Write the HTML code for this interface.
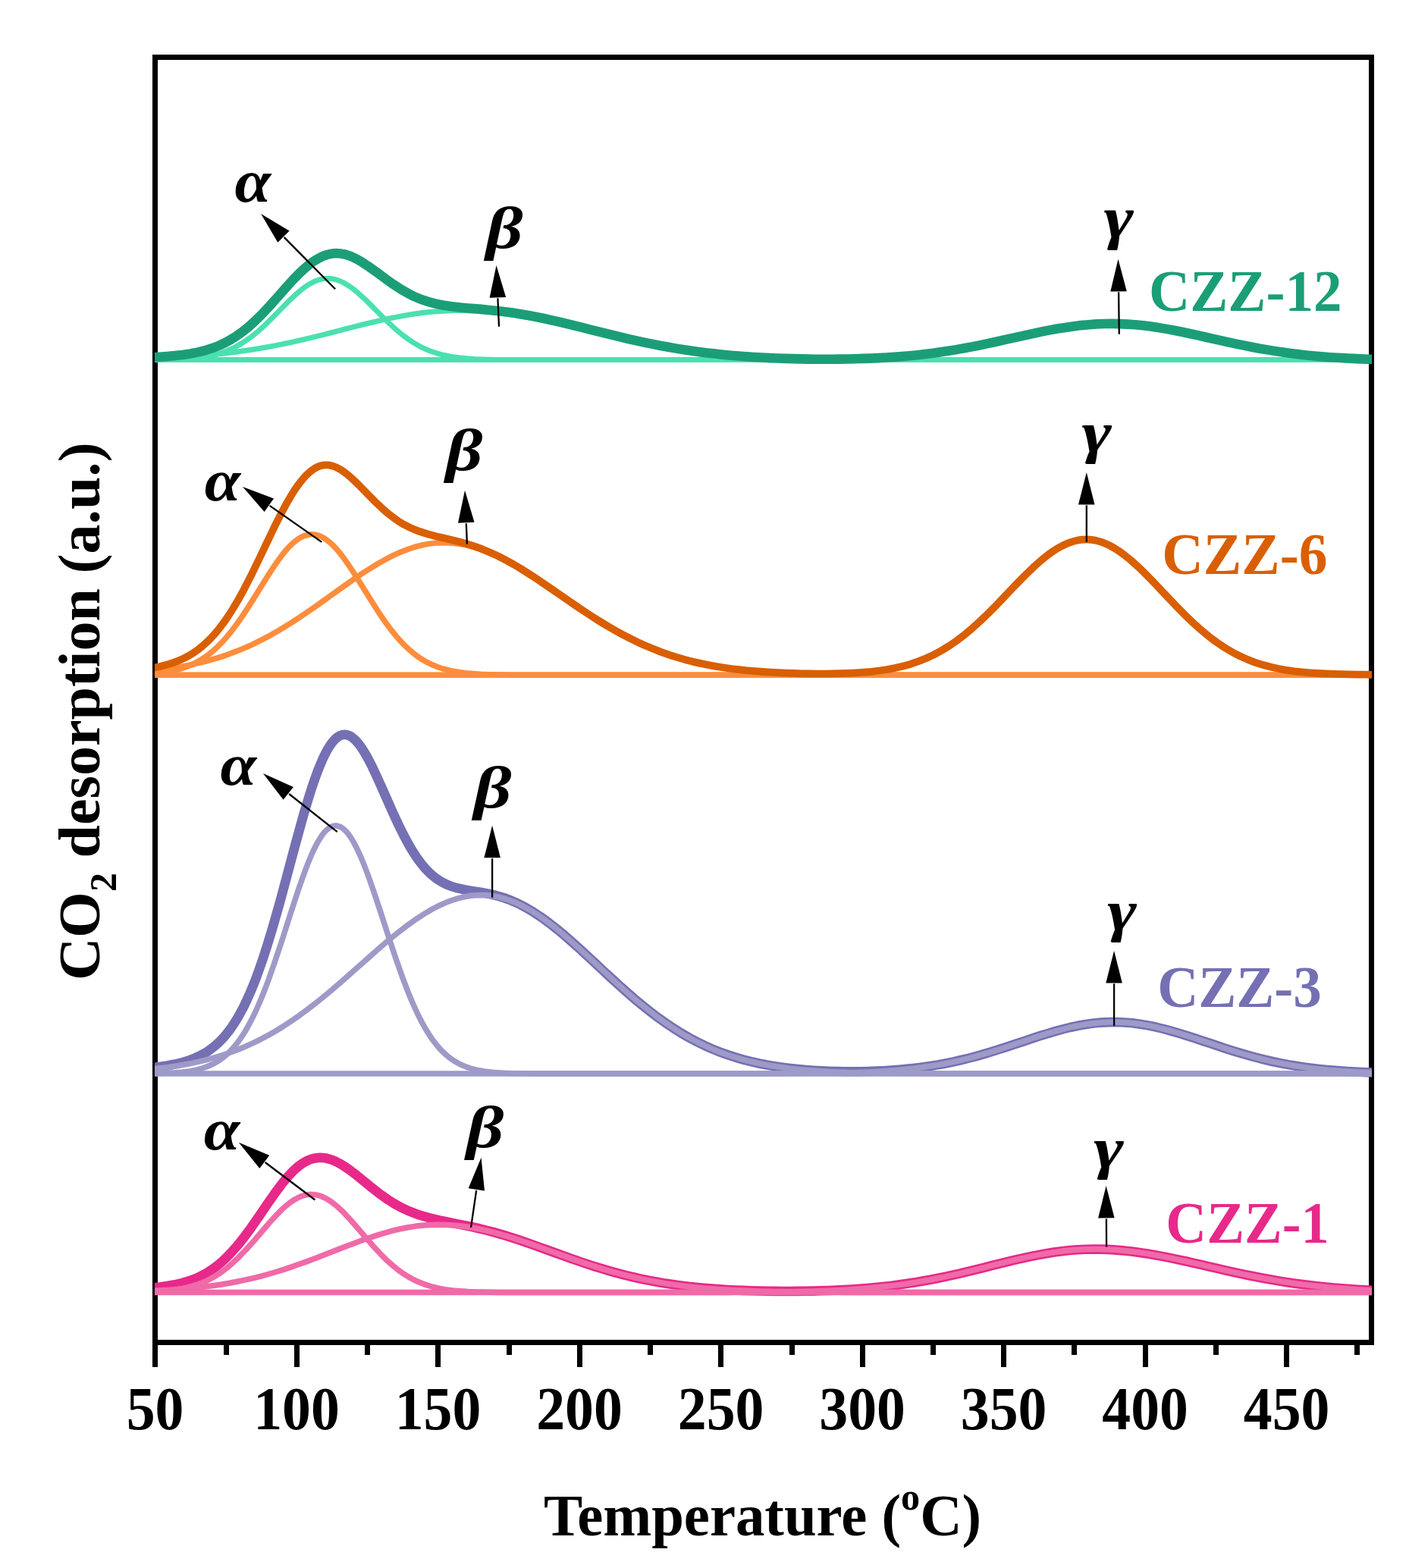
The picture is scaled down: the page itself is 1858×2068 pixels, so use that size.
<!DOCTYPE html>
<html lang="en"><head><meta charset="utf-8"><title>CO2-TPD profiles</title>
<style>html,body{margin:0;padding:0;background:#fff;overflow:hidden}svg{display:block}text{font-family:"Liberation Serif", "DejaVu Serif", serif;font-weight:bold}</style></head><body>
<svg width="1858" height="2068" viewBox="0 0 1858 2068">
<rect x="0" y="0" width="1858" height="2068" fill="#fff"/>
<g fill="#000" shape-rendering="crispEdges">
<rect x="201" y="72" width="1611" height="7"/>
<rect x="201" y="1767" width="1611" height="7"/>
<rect x="201" y="72" width="7" height="1731"/>
<rect x="1805" y="72" width="7" height="1702"/>
<rect x="295" y="1770" width="7" height="17"/>
<rect x="388" y="1770" width="7" height="33"/>
<rect x="481" y="1770" width="7" height="17"/>
<rect x="574" y="1770" width="7" height="33"/>
<rect x="668" y="1770" width="7" height="17"/>
<rect x="761" y="1770" width="7" height="33"/>
<rect x="854" y="1770" width="7" height="17"/>
<rect x="947" y="1770" width="7" height="33"/>
<rect x="1041" y="1770" width="7" height="17"/>
<rect x="1134" y="1770" width="7" height="33"/>
<rect x="1227" y="1770" width="7" height="17"/>
<rect x="1320" y="1770" width="7" height="33"/>
<rect x="1413" y="1770" width="7" height="17"/>
<rect x="1507" y="1770" width="7" height="33"/>
<rect x="1600" y="1770" width="7" height="17"/>
<rect x="1693" y="1770" width="7" height="33"/>
<rect x="1786" y="1770" width="7" height="17"/>
</g>
<defs><clipPath id="pc"><rect x="204" y="75" width="1605" height="1695"/></clipPath></defs>
<g clip-path="url(#pc)" fill="none" stroke-linejoin="round" stroke-linecap="butt">
<g>
<path d="M200.5 474.6 L1812.5 474.6" stroke="#4be0b0" stroke-width="6.2"/>
<path d="M189.6 474.5L199.8 474.5L210.1 474.4L220.4 474.2L230.6 473.9L240.9 473.5L251.1 472.8L261.4 471.7L271.6 470.2L281.9 468.1L290.3 465.8L297.8 463.2L305.2 460.1L311.7 456.9L318.3 453.1L324.8 448.9L332.3 443.5L340.7 436.6L350.9 427.3L361.2 417.1L371.4 406.6L381.7 396.3L390.1 388.4L396.6 382.8L401.3 379.2L405.9 376.0L409.7 373.8L413.4 371.8L417.1 370.2L419.9 369.2L422.7 368.5L425.5 367.9L428.3 367.5L431.1 367.3L433.9 367.3L436.7 367.6L439.5 368.0L442.3 368.7L445.1 369.5L448.8 370.9L452.6 372.6L456.3 374.7L461.0 377.7L465.6 381.0L472.1 386.3L481.5 394.8L491.7 405.0L502.0 415.4L512.2 425.5L522.5 434.9L530.9 441.9L538.4 447.4L545.8 452.3L552.3 456.1L559.8 459.8L567.3 463.0L575.7 465.8L585.0 468.3L595.2 470.4L605.5 471.8L615.8 472.8L626.0 473.5L636.3 473.9L646.5 474.2L656.8 474.4L667.0 474.5L677.3 474.5L687.6 474.6L697.8 474.6L708.1 474.6L718.3 474.6L728.6 474.6L738.9 474.6L749.1 474.6L759.4 474.6L769.6 474.6L779.9 474.6L790.1 474.6L800.4 474.6L810.7 474.6L820.9 474.6L831.2 474.6L841.4 474.6L851.7 474.6L862.0 474.6L872.2 474.6L882.5 474.6L892.7 474.6L903.0 474.6L913.2 474.6L923.5 474.6L933.8 474.6L944.0 474.6L954.3 474.6L964.5 474.6L974.8 474.6L985.1 474.6L995.3 474.6L1005.6 474.6L1015.8 474.6L1026.1 474.6L1036.3 474.6L1046.6 474.6L1056.9 474.6L1067.1 474.6L1077.4 474.6L1087.6 474.6L1097.9 474.6L1108.1 474.6L1118.4 474.6L1128.7 474.6L1138.9 474.6L1149.2 474.6L1159.4 474.6L1169.7 474.6L1180.0 474.6L1190.2 474.6L1200.5 474.6L1210.7 474.6L1221.0 474.6L1231.2 474.6L1241.5 474.6L1251.8 474.6L1262.0 474.6L1272.3 474.6L1282.5 474.6L1292.8 474.6L1303.1 474.6L1313.3 474.6L1323.6 474.6L1333.8 474.6L1344.1 474.6L1354.3 474.6L1364.6 474.6L1374.9 474.6L1385.1 474.6L1395.4 474.6L1405.6 474.6L1415.9 474.6L1426.2 474.6L1436.4 474.6L1446.7 474.6L1456.9 474.6L1467.2 474.6L1477.4 474.6L1487.7 474.6L1498.0 474.6L1508.2 474.6L1518.5 474.6L1528.7 474.6L1539.0 474.6L1549.2 474.6L1559.5 474.6L1569.8 474.6L1580.0 474.6L1590.3 474.6L1600.5 474.6L1610.8 474.6L1621.1 474.6L1631.3 474.6L1641.6 474.6L1651.8 474.6L1662.1 474.6L1672.3 474.6L1682.6 474.6L1692.9 474.6L1703.1 474.6L1713.4 474.6L1723.6 474.6L1733.9 474.6L1744.2 474.6L1754.4 474.6L1764.7 474.6L1774.9 474.6L1785.2 474.6L1795.4 474.6L1805.7 474.6L1816.0 474.6L1823.4 474.6" stroke="#4be0b0" stroke-width="7.0"/>
<path d="M189.6 472.9L199.8 472.6L210.1 472.2L220.4 471.8L230.6 471.3L240.9 470.7L251.1 470.0L261.4 469.3L271.6 468.4L281.9 467.5L292.2 466.4L302.4 465.3L312.7 464.0L322.9 462.5L333.2 461.0L343.5 459.3L353.7 457.5L364.0 455.6L374.2 453.5L384.5 451.3L394.7 449.0L405.0 446.6L415.3 444.2L425.5 441.6L435.8 439.0L446.0 436.4L456.3 433.7L466.5 431.1L476.8 428.5L487.1 426.0L497.3 423.6L507.6 421.2L517.8 419.1L528.1 417.1L538.4 415.3L548.6 413.7L558.9 412.3L569.1 411.2L579.4 410.4L589.6 409.9L599.9 409.6L610.2 409.6L620.4 409.9L630.7 410.4L640.9 411.2L651.2 412.2L661.5 413.3L671.7 414.7L682.0 416.3L692.2 418.1L702.5 419.9L712.7 422.0L723.0 424.1L733.3 426.4L743.5 428.7L753.8 431.0L764.0 433.4L774.3 435.8L784.6 438.2L794.8 440.6L805.1 443.0L815.3 445.3L825.6 447.5L835.8 449.6L846.1 451.7L856.4 453.7L866.6 455.5L876.9 457.3L887.1 459.0L897.4 460.5L907.6 462.0L917.9 463.3L928.2 464.6L938.4 465.7L948.7 466.7L958.9 467.7L969.2 468.5L979.5 469.3L989.7 470.0L1000.0 470.6L1010.2 471.1L1020.5 471.6L1030.7 472.0L1041.0 472.4L1051.3 472.7L1061.5 473.0L1071.8 473.3L1082.0 473.5L1092.3 473.7L1102.6 473.8L1112.8 473.9L1123.1 474.1L1133.3 474.2L1143.6 474.2L1153.8 474.3L1164.1 474.4L1174.4 474.4L1184.6 474.4L1194.9 474.5L1205.1 474.5L1215.4 474.5L1225.7 474.5L1235.9 474.5L1246.2 474.6L1256.4 474.6L1266.7 474.6L1276.9 474.6L1287.2 474.6L1297.5 474.6L1307.7 474.6L1318.0 474.6L1328.2 474.6L1338.5 474.6L1348.7 474.6L1359.0 474.6L1369.3 474.6L1379.5 474.6L1389.8 474.6L1400.0 474.6L1410.3 474.6L1420.6 474.6L1430.8 474.6L1441.1 474.6L1451.3 474.6L1461.6 474.6L1471.8 474.6L1482.1 474.6L1492.4 474.6L1502.6 474.6L1512.9 474.6L1523.1 474.6L1533.4 474.6L1543.7 474.6L1553.9 474.6L1564.2 474.6L1574.4 474.6L1584.7 474.6L1594.9 474.6L1605.2 474.6L1615.5 474.6L1625.7 474.6L1636.0 474.6L1646.2 474.6L1656.5 474.6L1666.8 474.6L1677.0 474.6L1687.3 474.6L1697.5 474.6L1707.8 474.6L1718.0 474.6L1728.3 474.6L1738.6 474.6L1748.8 474.6L1759.1 474.6L1769.3 474.6L1779.6 474.6L1789.8 474.6L1800.1 474.6L1810.4 474.6L1820.6 474.6L1823.4 474.6" stroke="#4be0b0" stroke-width="7.0"/>
<path d="M189.6 474.6L199.8 474.6L210.1 474.6L220.4 474.6L230.6 474.6L240.9 474.6L251.1 474.6L261.4 474.6L271.6 474.6L281.9 474.6L292.2 474.6L302.4 474.6L312.7 474.6L322.9 474.6L333.2 474.6L343.5 474.6L353.7 474.6L364.0 474.6L374.2 474.6L384.5 474.6L394.7 474.6L405.0 474.6L415.3 474.6L425.5 474.6L435.8 474.6L446.0 474.6L456.3 474.6L466.5 474.6L476.8 474.6L487.1 474.6L497.3 474.6L507.6 474.6L517.8 474.6L528.1 474.6L538.4 474.6L548.6 474.6L558.9 474.6L569.1 474.6L579.4 474.6L589.6 474.6L599.9 474.6L610.2 474.6L620.4 474.6L630.7 474.6L640.9 474.6L651.2 474.6L661.5 474.6L671.7 474.6L682.0 474.6L692.2 474.6L702.5 474.6L712.7 474.6L723.0 474.6L733.3 474.6L743.5 474.6L753.8 474.6L764.0 474.6L774.3 474.6L784.6 474.6L794.8 474.6L805.1 474.6L815.3 474.6L825.6 474.6L835.8 474.6L846.1 474.6L856.4 474.6L866.6 474.6L876.9 474.6L887.1 474.6L897.4 474.6L907.6 474.6L917.9 474.6L928.2 474.6L938.4 474.6L948.7 474.6L958.9 474.6L969.2 474.6L979.5 474.6L989.7 474.5L1000.0 474.5L1010.2 474.5L1020.5 474.5L1030.7 474.4L1041.0 474.4L1051.3 474.3L1061.5 474.2L1071.8 474.1L1082.0 474.0L1092.3 473.8L1102.6 473.6L1112.8 473.3L1123.1 473.1L1133.3 472.7L1143.6 472.3L1153.8 471.8L1164.1 471.2L1174.4 470.6L1184.6 469.8L1194.9 469.0L1205.1 468.0L1215.4 466.9L1225.7 465.7L1235.9 464.3L1246.2 462.9L1256.4 461.3L1266.7 459.5L1276.9 457.6L1287.2 455.7L1297.5 453.6L1307.7 451.4L1318.0 449.2L1328.2 446.9L1338.5 444.7L1348.7 442.4L1359.0 440.1L1369.3 438.0L1379.5 435.9L1389.8 434.0L1400.0 432.2L1410.3 430.7L1420.6 429.3L1430.8 428.2L1441.1 427.4L1451.3 426.9L1461.6 426.6L1471.8 426.7L1482.1 427.0L1492.4 427.6L1502.6 428.5L1512.9 429.7L1523.1 431.1L1533.4 432.7L1543.7 434.5L1553.9 436.5L1564.2 438.6L1574.4 440.7L1584.7 443.0L1594.9 445.3L1605.2 447.6L1615.5 449.8L1625.7 452.0L1636.0 454.2L1646.2 456.2L1656.5 458.2L1666.8 460.0L1677.0 461.7L1687.3 463.3L1697.5 464.7L1707.8 466.0L1718.0 467.2L1728.3 468.3L1738.6 469.2L1748.8 470.1L1759.1 470.8L1769.3 471.4L1779.6 472.0L1789.8 472.4L1800.1 472.8L1810.4 473.1L1820.6 473.4L1823.4 473.5" stroke="#4be0b0" stroke-width="7.0"/>
<path d="M189.6 471.8L199.8 471.3L210.1 470.7L220.4 470.0L230.6 469.1L240.9 467.9L251.1 466.4L261.4 464.4L271.6 461.8L281.0 458.8L289.4 455.5L296.8 452.0L304.3 447.9L311.7 443.2L319.2 437.9L326.7 432.0L335.1 424.5L345.3 414.5L355.6 403.5L365.8 392.1L376.1 380.4L386.3 369.1L394.7 360.5L401.3 354.4L406.9 349.7L411.5 346.1L416.2 343.0L419.9 340.8L423.7 338.9L427.4 337.3L431.1 336.0L434.8 335.1L437.6 334.6L440.4 334.3L443.2 334.1L446.0 334.2L449.8 334.6L453.5 335.2L457.2 336.2L461.0 337.4L465.6 339.3L471.2 342.1L477.7 345.9L488.0 352.8L498.3 360.2L508.5 367.8L518.8 375.1L529.0 381.8L538.4 387.1L546.7 391.3L555.1 394.8L563.5 397.6L573.8 400.4L584.1 402.5L594.3 404.0L604.6 405.2L614.8 406.2L625.1 407.0L635.3 407.9L645.6 408.9L655.9 409.9L666.1 411.2L676.4 412.6L686.6 414.2L696.9 416.0L707.1 417.9L717.4 420.0L727.7 422.3L737.9 424.6L748.2 427.1L758.4 429.6L768.7 432.2L779.0 434.8L789.2 437.3L799.5 439.9L809.7 442.4L820.0 444.9L830.2 447.3L840.5 449.6L850.8 451.8L861.0 453.9L871.3 456.0L881.5 457.8L891.8 459.6L902.1 461.3L912.3 462.8L922.6 464.2L932.8 465.5L943.1 466.6L953.3 467.7L963.6 468.7L973.9 469.5L984.1 470.3L994.4 471.0L1004.6 471.5L1014.9 472.1L1025.2 472.5L1035.4 472.9L1045.7 473.1L1055.9 473.4L1066.2 473.6L1076.4 473.7L1086.7 473.7L1097.0 473.7L1107.2 473.6L1117.5 473.5L1127.7 473.2L1138.0 472.9L1148.2 472.6L1158.5 472.1L1168.8 471.5L1179.0 470.9L1189.3 470.1L1199.5 469.2L1209.8 468.2L1220.1 467.0L1230.3 465.8L1240.6 464.3L1250.8 462.8L1261.1 461.1L1271.3 459.3L1281.6 457.4L1291.9 455.3L1302.1 453.2L1312.4 451.0L1322.6 448.7L1332.9 446.4L1343.2 444.1L1353.4 441.8L1363.7 439.6L1373.9 437.4L1384.2 435.4L1394.4 433.5L1404.7 431.9L1415.0 430.4L1425.2 429.1L1435.5 428.2L1445.7 427.4L1456.0 427.0L1466.3 426.9L1476.5 427.1L1486.8 427.6L1497.0 428.3L1507.3 429.3L1517.5 430.6L1527.8 432.1L1538.1 433.9L1548.3 435.8L1558.6 437.8L1568.8 440.0L1579.1 442.2L1589.3 444.5L1599.6 446.8L1609.9 449.1L1620.1 451.4L1630.4 453.6L1640.6 455.7L1650.9 457.7L1661.2 459.7L1671.4 461.4L1681.7 463.1L1691.9 464.6L1702.2 466.0L1712.4 467.3L1722.7 468.5L1733.0 469.5L1743.2 470.4L1753.5 471.2L1763.7 471.8L1774.0 472.4L1784.3 472.9L1794.5 473.4L1804.8 473.7L1815.0 474.1L1823.4 474.3" stroke="#1b9e77" stroke-width="12.6"/>
</g>
<g>
<path d="M200.5 890.3 L1812.5 890.3" stroke="#fd8d3c" stroke-width="7"/>
<path d="M189.6 889.2L199.8 888.5L210.1 887.5L220.4 886.1L230.6 884.0L239.0 881.8L246.5 879.2L253.0 876.5L258.6 873.8L264.2 870.6L269.8 867.0L275.4 863.0L281.0 858.4L286.6 853.3L292.2 847.7L298.7 840.4L305.2 832.5L312.7 822.6L322.9 807.6L333.2 791.6L343.5 775.1L353.7 758.6L363.0 744.5L369.6 735.3L374.2 729.3L378.9 723.8L382.6 719.8L386.3 716.3L389.1 713.9L391.9 711.8L394.7 709.9L397.5 708.3L400.3 707.0L402.2 706.3L404.1 705.8L405.9 705.3L407.8 705.0L409.7 704.8L411.5 704.8L413.4 704.9L415.3 705.1L417.1 705.5L419.0 706.0L420.9 706.6L423.7 707.8L426.4 709.3L429.2 711.0L432.0 713.0L434.8 715.3L438.6 718.7L442.3 722.6L447.0 727.9L452.6 735.1L459.1 744.2L469.3 759.8L479.6 776.3L489.9 792.8L500.1 808.8L509.4 822.3L516.9 832.2L523.4 840.2L530.0 847.5L535.6 853.1L541.2 858.2L546.7 862.8L552.3 866.9L557.9 870.5L563.5 873.7L570.1 876.8L576.6 879.5L584.1 882.0L593.4 884.4L603.6 886.3L613.9 887.7L624.2 888.6L634.4 889.3L644.7 889.7L654.9 889.9L665.2 890.1L675.4 890.2L685.7 890.2L696.0 890.3L706.2 890.3L716.5 890.3L726.7 890.3L737.0 890.3L747.2 890.3L757.5 890.3L767.8 890.3L778.0 890.3L788.3 890.3L798.5 890.3L808.8 890.3L819.1 890.3L829.3 890.3L839.6 890.3L849.8 890.3L860.1 890.3L870.3 890.3L880.6 890.3L890.9 890.3L901.1 890.3L911.4 890.3L921.6 890.3L931.9 890.3L942.2 890.3L952.4 890.3L962.7 890.3L972.9 890.3L983.2 890.3L993.4 890.3L1003.7 890.3L1014.0 890.3L1024.2 890.3L1034.5 890.3L1044.7 890.3L1055.0 890.3L1065.3 890.3L1075.5 890.3L1085.8 890.3L1096.0 890.3L1106.3 890.3L1116.5 890.3L1126.8 890.3L1137.1 890.3L1147.3 890.3L1157.6 890.3L1167.8 890.3L1178.1 890.3L1188.3 890.3L1198.6 890.3L1208.9 890.3L1219.1 890.3L1229.4 890.3L1239.6 890.3L1249.9 890.3L1260.2 890.3L1270.4 890.3L1280.7 890.3L1290.9 890.3L1301.2 890.3L1311.4 890.3L1321.7 890.3L1332.0 890.3L1342.2 890.3L1352.5 890.3L1362.7 890.3L1373.0 890.3L1383.3 890.3L1393.5 890.3L1403.8 890.3L1414.0 890.3L1424.3 890.3L1434.5 890.3L1444.8 890.3L1455.1 890.3L1465.3 890.3L1475.6 890.3L1485.8 890.3L1496.1 890.3L1506.4 890.3L1516.6 890.3L1526.9 890.3L1537.1 890.3L1547.4 890.3L1557.6 890.3L1567.9 890.3L1578.2 890.3L1588.4 890.3L1598.7 890.3L1608.9 890.3L1619.2 890.3L1629.4 890.3L1639.7 890.3L1650.0 890.3L1660.2 890.3L1670.5 890.3L1680.7 890.3L1691.0 890.3L1701.3 890.3L1711.5 890.3L1721.8 890.3L1732.0 890.3L1742.3 890.3L1752.5 890.3L1762.8 890.3L1773.1 890.3L1783.3 890.3L1793.6 890.3L1803.8 890.3L1814.1 890.3L1823.4 890.3" stroke="#fd8d3c" stroke-width="7.5"/>
<path d="M189.6 885.5L199.8 884.6L210.1 883.4L220.4 882.1L230.6 880.6L240.9 878.9L251.1 876.9L261.4 874.6L271.6 872.1L281.9 869.2L292.2 866.1L302.4 862.5L312.7 858.6L322.9 854.4L333.2 849.8L343.5 844.7L353.7 839.4L364.0 833.6L374.2 827.5L384.5 821.1L394.7 814.4L405.0 807.5L415.3 800.4L425.5 793.1L435.8 785.7L446.0 778.4L456.3 771.1L466.5 763.9L476.8 756.9L487.1 750.3L497.3 744.0L507.6 738.2L517.8 732.9L528.1 728.2L538.4 724.2L548.6 720.9L557.9 718.6L566.3 717.1L574.7 716.1L583.1 715.7L592.4 715.9L601.8 716.7L611.1 718.2L621.4 720.6L631.6 723.6L641.9 727.4L652.1 731.7L662.4 736.7L672.6 742.1L682.9 748.1L693.2 754.3L703.4 760.9L713.7 767.8L723.9 774.7L734.2 781.8L744.5 788.9L754.7 796.0L765.0 802.9L775.2 809.8L785.5 816.4L795.7 822.7L806.0 828.8L816.3 834.6L826.5 840.1L836.8 845.3L847.0 850.1L857.3 854.5L867.5 858.6L877.8 862.4L888.1 865.8L898.3 868.9L908.6 871.7L918.8 874.2L929.1 876.4L939.4 878.4L949.6 880.1L959.9 881.6L970.1 883.0L980.4 884.1L990.6 885.1L1000.9 886.0L1011.2 886.7L1021.4 887.3L1031.7 887.8L1041.9 888.3L1052.2 888.7L1062.5 889.0L1072.7 889.2L1083.0 889.4L1093.2 889.6L1103.5 889.7L1113.7 889.9L1124.0 889.9L1134.3 890.0L1144.5 890.1L1154.8 890.1L1165.0 890.2L1175.3 890.2L1185.6 890.2L1195.8 890.2L1206.1 890.3L1216.3 890.3L1226.6 890.3L1236.8 890.3L1247.1 890.3L1257.4 890.3L1267.6 890.3L1277.9 890.3L1288.1 890.3L1298.4 890.3L1308.6 890.3L1318.9 890.3L1329.2 890.3L1339.4 890.3L1349.7 890.3L1359.9 890.3L1370.2 890.3L1380.5 890.3L1390.7 890.3L1401.0 890.3L1411.2 890.3L1421.5 890.3L1431.7 890.3L1442.0 890.3L1452.3 890.3L1462.5 890.3L1472.8 890.3L1483.0 890.3L1493.3 890.3L1503.6 890.3L1513.8 890.3L1524.1 890.3L1534.3 890.3L1544.6 890.3L1554.8 890.3L1565.1 890.3L1575.4 890.3L1585.6 890.3L1595.9 890.3L1606.1 890.3L1616.4 890.3L1626.7 890.3L1636.9 890.3L1647.2 890.3L1657.4 890.3L1667.7 890.3L1677.9 890.3L1688.2 890.3L1698.5 890.3L1708.7 890.3L1719.0 890.3L1729.2 890.3L1739.5 890.3L1749.7 890.3L1760.0 890.3L1770.3 890.3L1780.5 890.3L1790.8 890.3L1801.0 890.3L1811.3 890.3L1821.6 890.3L1823.4 890.3" stroke="#fd8d3c" stroke-width="7.5"/>
<path d="M189.6 890.3L199.8 890.3L210.1 890.3L220.4 890.3L230.6 890.3L240.9 890.3L251.1 890.3L261.4 890.3L271.6 890.3L281.9 890.3L292.2 890.3L302.4 890.3L312.7 890.3L322.9 890.3L333.2 890.3L343.5 890.3L353.7 890.3L364.0 890.3L374.2 890.3L384.5 890.3L394.7 890.3L405.0 890.3L415.3 890.3L425.5 890.3L435.8 890.3L446.0 890.3L456.3 890.3L466.5 890.3L476.8 890.3L487.1 890.3L497.3 890.3L507.6 890.3L517.8 890.3L528.1 890.3L538.4 890.3L548.6 890.3L558.9 890.3L569.1 890.3L579.4 890.3L589.6 890.3L599.9 890.3L610.2 890.3L620.4 890.3L630.7 890.3L640.9 890.3L651.2 890.3L661.5 890.3L671.7 890.3L682.0 890.3L692.2 890.3L702.5 890.3L712.7 890.3L723.0 890.3L733.3 890.3L743.5 890.3L753.8 890.3L764.0 890.3L774.3 890.3L784.6 890.3L794.8 890.3L805.1 890.3L815.3 890.3L825.6 890.3L835.8 890.3L846.1 890.3L856.4 890.3L866.6 890.3L876.9 890.3L887.1 890.3L897.4 890.3L907.6 890.3L917.9 890.3L928.2 890.3L938.4 890.3L948.7 890.3L958.9 890.3L969.2 890.3L979.5 890.3L989.7 890.3L1000.0 890.3L1010.2 890.3L1020.5 890.2L1030.7 890.2L1041.0 890.2L1051.3 890.1L1061.5 890.0L1071.8 889.9L1082.0 889.8L1092.3 889.5L1102.6 889.2L1112.8 888.9L1123.1 888.3L1133.3 887.7L1143.6 886.8L1153.8 885.7L1164.1 884.3L1174.4 882.6L1184.6 880.5L1194.9 877.9L1205.1 874.7L1215.4 871.0L1225.7 866.6L1235.9 861.5L1246.2 855.6L1256.4 848.9L1266.7 841.5L1276.9 833.3L1287.2 824.4L1297.5 814.8L1307.7 804.7L1318.0 794.1L1328.2 783.4L1338.5 772.6L1348.7 762.1L1359.0 751.9L1369.3 742.5L1378.6 734.7L1386.1 729.1L1392.6 724.7L1398.2 721.4L1403.8 718.6L1408.4 716.6L1413.1 714.9L1417.8 713.6L1422.4 712.7L1427.1 712.0L1431.7 711.8L1436.4 711.9L1441.1 712.4L1445.7 713.3L1450.4 714.5L1455.1 716.1L1459.7 718.1L1465.3 720.8L1470.9 724.1L1477.4 728.4L1484.9 733.9L1494.2 741.8L1504.5 751.3L1514.7 761.5L1525.0 772.1L1535.3 783.0L1545.5 793.9L1555.8 804.5L1566.0 814.8L1576.3 824.4L1586.6 833.5L1596.8 841.7L1607.1 849.2L1617.3 855.9L1627.6 861.8L1637.8 866.9L1648.1 871.3L1658.4 875.0L1668.6 878.2L1678.9 880.7L1689.1 882.8L1699.4 884.5L1709.6 885.9L1719.9 887.0L1730.2 887.8L1740.4 888.5L1750.7 888.9L1760.9 889.3L1771.2 889.6L1781.5 889.8L1791.7 889.9L1802.0 890.1L1812.2 890.1L1822.5 890.2L1823.4 890.2" stroke="#fd8d3c" stroke-width="7.5"/>
<path d="M189.6 882.8L199.8 881.2L210.1 879.2L220.4 876.6L228.7 873.9L236.2 871.0L242.7 868.1L249.3 864.6L254.9 861.1L260.5 857.3L266.0 852.9L271.6 848.0L277.2 842.6L282.8 836.5L288.4 829.8L294.0 822.6L299.6 814.6L306.1 804.6L313.6 792.1L322.0 776.8L332.3 756.7L342.5 735.5L352.8 713.9L363.0 692.6L372.4 674.2L378.9 662.2L384.5 652.7L389.1 645.4L392.9 640.0L396.6 635.1L400.3 630.6L403.1 627.5L405.9 624.8L408.7 622.3L411.5 620.1L414.3 618.2L416.2 617.1L418.1 616.1L419.9 615.3L421.8 614.6L423.7 614.1L425.5 613.7L427.4 613.4L429.2 613.3L431.1 613.3L433.0 613.4L434.8 613.7L437.6 614.3L440.4 615.2L443.2 616.3L446.0 617.7L449.8 619.8L453.5 622.3L458.2 625.9L463.8 630.7L474.0 640.6L484.3 651.1L494.5 661.5L504.8 671.3L512.2 677.7L518.8 682.7L525.3 687.3L531.8 691.3L538.4 694.7L545.8 698.1L554.2 701.3L564.5 704.5L574.7 707.2L585.0 709.6L595.2 712.0L605.5 714.5L615.8 717.4L626.0 720.6L636.3 724.4L646.5 728.7L656.8 733.4L667.0 738.7L677.3 744.4L687.6 750.5L697.8 757.0L708.1 763.7L718.3 770.6L728.6 777.6L738.9 784.7L749.1 791.8L759.4 798.9L769.6 805.8L779.9 812.5L790.1 819.0L800.4 825.3L810.7 831.2L820.9 836.9L831.2 842.2L841.4 847.2L851.7 851.8L862.0 856.1L872.2 860.1L882.5 863.7L892.7 866.9L903.0 869.9L913.2 872.6L923.5 874.9L933.8 877.0L944.0 878.9L954.3 880.5L964.5 882.0L974.8 883.2L985.1 884.3L995.3 885.2L1005.6 886.0L1015.8 886.6L1026.1 887.2L1036.3 887.6L1046.6 888.0L1056.9 888.3L1067.1 888.5L1077.4 888.6L1087.6 888.6L1097.9 888.5L1108.1 888.2L1118.4 887.9L1128.7 887.4L1138.9 886.7L1149.2 885.8L1159.4 884.5L1169.7 883.0L1180.0 881.1L1190.2 878.7L1200.5 875.9L1210.7 872.4L1221.0 868.3L1231.2 863.6L1241.5 858.0L1251.8 851.7L1262.0 844.7L1272.3 836.8L1282.5 828.2L1292.8 818.9L1303.1 809.0L1313.3 798.7L1323.6 788.0L1333.8 777.2L1344.1 766.5L1354.3 756.2L1364.6 746.4L1374.9 737.4L1382.3 731.5L1388.8 726.8L1395.4 722.7L1401.0 719.7L1406.6 717.1L1411.2 715.3L1415.9 713.8L1420.6 712.7L1425.2 711.9L1429.9 711.6L1434.5 711.5L1439.2 711.9L1443.9 712.6L1448.5 713.7L1453.2 715.2L1457.9 717.0L1463.5 719.6L1469.0 722.6L1475.6 726.8L1483.0 732.2L1491.4 739.0L1501.7 748.3L1511.9 758.3L1522.2 768.9L1532.5 779.8L1542.7 790.6L1553.0 801.4L1563.2 811.7L1573.5 821.6L1583.8 830.8L1594.0 839.3L1604.3 847.0L1614.5 853.9L1624.8 860.0L1635.0 865.3L1645.3 869.9L1655.6 873.8L1665.8 877.1L1676.1 879.8L1686.3 882.0L1696.6 883.8L1706.9 885.3L1717.1 886.4L1727.4 887.3L1737.6 888.0L1747.9 888.5L1758.1 888.9L1768.4 889.2L1778.7 889.4L1788.9 889.6L1799.2 889.7L1809.4 889.8L1819.7 889.9L1823.4 889.9" stroke="#d95f02" stroke-width="9.8"/>
</g>
<g>
<path d="M189.6 1409.5L199.8 1408.4L210.1 1407.1L220.4 1405.5L230.6 1403.5L240.9 1401.0L249.3 1398.4L256.7 1395.6L263.3 1392.6L268.8 1389.6L273.5 1386.8L278.2 1383.5L282.8 1379.9L287.5 1375.8L291.2 1372.1L295.0 1368.1L298.7 1363.7L302.4 1359.0L306.1 1353.8L309.9 1348.1L313.6 1342.0L317.3 1335.3L321.1 1328.2L325.7 1318.5L330.4 1308.0L335.1 1296.7L339.7 1284.4L345.3 1268.6L351.8 1248.7L359.3 1224.2L369.6 1188.0L379.8 1149.9L390.1 1111.5L400.3 1074.5L406.9 1052.5L411.5 1037.9L415.3 1027.0L419.0 1016.8L421.8 1009.8L424.6 1003.2L427.4 997.2L430.2 991.7L432.0 988.3L433.9 985.2L435.8 982.4L437.6 979.8L439.5 977.5L441.4 975.4L443.2 973.7L445.1 972.2L447.0 971.0L447.9 970.5L448.8 970.0L449.8 969.7L450.7 969.4L451.6 969.1L452.6 969.0L453.5 968.9L454.4 968.8L455.4 968.9L456.3 969.0L457.2 969.1L458.2 969.4L460.0 970.0L461.9 970.9L463.8 972.1L465.6 973.5L467.5 975.1L469.3 976.9L471.2 979.0L473.1 981.3L475.9 985.0L478.7 989.2L481.5 993.8L485.2 1000.4L489.9 1009.4L497.3 1025.1L507.6 1048.1L517.8 1071.2L526.2 1089.3L532.8 1102.5L538.4 1112.8L543.0 1120.8L547.7 1128.2L551.4 1133.6L555.1 1138.6L558.9 1143.2L562.6 1147.3L566.3 1151.1L570.1 1154.4L573.8 1157.5L577.5 1160.1L581.3 1162.5L585.9 1165.0L590.6 1167.2L596.2 1169.3L602.7 1171.2L613.0 1173.5L623.2 1175.2L633.5 1176.8L643.7 1178.7L654.0 1181.0L664.3 1184.0L673.6 1187.4L682.9 1191.5L693.2 1196.8L703.4 1202.9L713.7 1209.7L723.9 1217.1L734.2 1225.2L744.5 1233.7L754.7 1242.7L765.0 1251.9L775.2 1261.3L785.5 1270.9L795.7 1280.5L806.0 1290.0L816.3 1299.4L826.5 1308.5L836.8 1317.4L847.0 1325.9L857.3 1334.1L867.5 1341.9L877.8 1349.2L888.1 1356.1L898.3 1362.5L908.6 1368.5L918.8 1373.9L929.1 1378.9L939.4 1383.5L949.6 1387.6L959.9 1391.3L970.1 1394.6L980.4 1397.6L990.6 1400.2L1000.9 1402.5L1011.2 1404.5L1021.4 1406.2L1031.7 1407.7L1041.9 1409.0L1052.2 1410.1L1062.5 1411.0L1072.7 1411.7L1083.0 1412.3L1093.2 1412.7L1103.5 1413.0L1113.7 1413.2L1124.0 1413.2L1134.3 1413.2L1144.5 1413.0L1154.8 1412.6L1165.0 1412.2L1175.3 1411.6L1185.6 1410.8L1195.8 1409.9L1206.1 1408.8L1216.3 1407.5L1226.6 1406.0L1236.8 1404.4L1247.1 1402.5L1257.4 1400.4L1267.6 1398.0L1277.9 1395.5L1288.1 1392.8L1298.4 1389.9L1308.6 1386.8L1318.9 1383.6L1329.2 1380.2L1339.4 1376.8L1349.7 1373.4L1359.9 1370.0L1370.2 1366.6L1380.5 1363.4L1390.7 1360.4L1401.0 1357.5L1411.2 1355.0L1421.5 1352.8L1431.7 1351.0L1442.0 1349.6L1452.3 1348.6L1462.5 1348.1L1472.8 1348.0L1483.0 1348.5L1493.3 1349.3L1503.6 1350.7L1513.8 1352.4L1524.1 1354.5L1534.3 1357.0L1544.6 1359.8L1554.8 1362.8L1565.1 1366.0L1575.4 1369.3L1585.6 1372.7L1595.9 1376.1L1606.1 1379.5L1616.4 1382.9L1626.7 1386.2L1636.9 1389.3L1647.2 1392.2L1657.4 1395.0L1667.7 1397.6L1677.9 1400.0L1688.2 1402.1L1698.5 1404.1L1708.7 1405.8L1719.0 1407.4L1729.2 1408.8L1739.5 1410.0L1749.7 1411.0L1760.0 1411.9L1770.3 1412.6L1780.5 1413.3L1790.8 1413.8L1801.0 1414.2L1811.3 1414.6L1821.6 1414.9L1823.4 1414.9" stroke="#7570b3" stroke-width="12.6"/>
<path d="M200.5 1416.0 L1812.5 1416.0" stroke="#9e9ac8" stroke-width="6.2"/>
<path d="M189.6 1415.9L199.8 1415.8L210.1 1415.6L220.4 1415.3L230.6 1414.8L240.9 1413.9L251.1 1412.6L259.5 1410.9L266.0 1409.2L271.6 1407.3L277.2 1405.0L281.9 1402.8L286.6 1400.1L290.3 1397.6L294.0 1394.9L297.8 1391.8L301.5 1388.4L305.2 1384.6L308.9 1380.4L312.7 1375.8L316.4 1370.7L320.1 1365.2L323.9 1359.2L327.6 1352.6L332.3 1343.8L336.9 1334.2L341.6 1323.8L347.2 1310.3L353.7 1293.3L362.1 1269.6L372.4 1238.6L382.6 1206.6L392.9 1175.2L399.4 1156.4L404.1 1143.8L407.8 1134.4L411.5 1125.7L414.3 1119.7L417.1 1114.1L419.9 1109.1L421.8 1106.0L423.7 1103.1L425.5 1100.5L427.4 1098.1L429.2 1096.1L431.1 1094.2L433.0 1092.7L434.8 1091.4L435.8 1090.8L436.7 1090.4L437.6 1090.0L438.6 1089.6L439.5 1089.4L440.4 1089.2L441.4 1089.1L442.3 1089.0L443.2 1089.0L444.2 1089.1L445.1 1089.3L446.0 1089.5L447.0 1089.8L447.9 1090.2L448.8 1090.6L450.7 1091.7L452.6 1093.0L454.4 1094.6L456.3 1096.5L458.2 1098.6L460.0 1101.0L461.9 1103.6L463.8 1106.5L466.5 1111.2L469.3 1116.4L472.1 1122.1L475.9 1130.4L479.6 1139.4L484.3 1151.5L491.7 1172.4L502.0 1203.3L512.2 1234.9L522.5 1265.7L530.9 1289.4L537.4 1306.6L543.0 1320.2L547.7 1330.7L552.3 1340.5L557.0 1349.5L561.7 1357.8L565.4 1363.8L569.1 1369.4L572.9 1374.5L576.6 1379.2L580.3 1383.5L584.1 1387.3L587.8 1390.8L591.5 1394.0L595.2 1396.8L599.9 1399.9L604.6 1402.5L609.2 1404.8L614.8 1407.1L621.4 1409.3L628.8 1411.2L639.1 1413.0L649.3 1414.2L659.6 1414.9L669.8 1415.4L680.1 1415.7L690.4 1415.8L700.6 1415.9L710.9 1415.9L721.1 1416.0L731.4 1416.0L741.7 1416.0L751.9 1416.0L762.2 1416.0L772.4 1416.0L782.7 1416.0L792.9 1416.0L803.2 1416.0L813.5 1416.0L823.7 1416.0L834.0 1416.0L844.2 1416.0L854.5 1416.0L864.8 1416.0L875.0 1416.0L885.3 1416.0L895.5 1416.0L905.8 1416.0L916.0 1416.0L926.3 1416.0L936.6 1416.0L946.8 1416.0L957.1 1416.0L967.3 1416.0L977.6 1416.0L987.8 1416.0L998.1 1416.0L1008.4 1416.0L1018.6 1416.0L1028.9 1416.0L1039.1 1416.0L1049.4 1416.0L1059.7 1416.0L1069.9 1416.0L1080.2 1416.0L1090.4 1416.0L1100.7 1416.0L1110.9 1416.0L1121.2 1416.0L1131.5 1416.0L1141.7 1416.0L1152.0 1416.0L1162.2 1416.0L1172.5 1416.0L1182.8 1416.0L1193.0 1416.0L1203.3 1416.0L1213.5 1416.0L1223.8 1416.0L1234.0 1416.0L1244.3 1416.0L1254.6 1416.0L1264.8 1416.0L1275.1 1416.0L1285.3 1416.0L1295.6 1416.0L1305.9 1416.0L1316.1 1416.0L1326.4 1416.0L1336.6 1416.0L1346.9 1416.0L1357.1 1416.0L1367.4 1416.0L1377.7 1416.0L1387.9 1416.0L1398.2 1416.0L1408.4 1416.0L1418.7 1416.0L1428.9 1416.0L1439.2 1416.0L1449.5 1416.0L1459.7 1416.0L1470.0 1416.0L1480.2 1416.0L1490.5 1416.0L1500.8 1416.0L1511.0 1416.0L1521.3 1416.0L1531.5 1416.0L1541.8 1416.0L1552.0 1416.0L1562.3 1416.0L1572.6 1416.0L1582.8 1416.0L1593.1 1416.0L1603.3 1416.0L1613.6 1416.0L1623.9 1416.0L1634.1 1416.0L1644.4 1416.0L1654.6 1416.0L1664.9 1416.0L1675.1 1416.0L1685.4 1416.0L1695.7 1416.0L1705.9 1416.0L1716.2 1416.0L1726.4 1416.0L1736.7 1416.0L1747.0 1416.0L1757.2 1416.0L1767.5 1416.0L1777.7 1416.0L1788.0 1416.0L1798.2 1416.0L1808.5 1416.0L1818.8 1416.0L1823.4 1416.0" stroke="#9e9ac8" stroke-width="7.5"/>
<path d="M189.6 1411.0L199.8 1410.1L210.1 1408.9L220.4 1407.7L230.6 1406.2L240.9 1404.5L251.1 1402.6L261.4 1400.4L271.6 1397.9L281.9 1395.1L292.2 1392.0L302.4 1388.5L312.7 1384.7L322.9 1380.5L333.2 1375.9L343.5 1370.8L353.7 1365.4L364.0 1359.5L374.2 1353.2L384.5 1346.4L394.7 1339.3L405.0 1331.7L415.3 1323.8L425.5 1315.6L435.8 1307.1L446.0 1298.3L456.3 1289.4L466.5 1280.3L476.8 1271.2L487.1 1262.1L497.3 1253.0L507.6 1244.2L517.8 1235.6L528.1 1227.4L538.4 1219.6L548.6 1212.3L558.9 1205.6L569.1 1199.5L579.4 1194.2L588.7 1190.1L597.1 1187.0L605.5 1184.4L613.9 1182.5L621.4 1181.3L628.8 1180.7L636.3 1180.5L642.8 1180.8L649.3 1181.5L656.8 1182.9L664.3 1184.8L671.7 1187.2L680.1 1190.5L689.4 1195.0L699.7 1200.7L709.9 1207.2L720.2 1214.4L730.5 1222.2L740.7 1230.6L751.0 1239.4L761.2 1248.5L771.5 1257.9L781.8 1267.4L792.0 1277.0L802.3 1286.5L812.5 1296.0L822.8 1305.2L833.0 1314.2L843.3 1322.9L853.6 1331.2L863.8 1339.1L874.1 1346.6L884.3 1353.7L894.6 1360.3L904.9 1366.4L915.1 1372.0L925.4 1377.2L935.6 1381.9L945.9 1386.2L956.1 1390.0L966.4 1393.5L976.7 1396.6L986.9 1399.3L997.2 1401.7L1007.4 1403.9L1017.7 1405.7L1027.9 1407.3L1038.2 1408.7L1048.5 1409.9L1058.7 1410.9L1069.0 1411.8L1079.2 1412.5L1089.5 1413.2L1099.8 1413.7L1110.0 1414.1L1120.3 1414.5L1130.5 1414.8L1140.8 1415.0L1151.0 1415.2L1161.3 1415.4L1171.6 1415.5L1181.8 1415.6L1192.1 1415.7L1202.3 1415.8L1212.6 1415.8L1222.9 1415.9L1233.1 1415.9L1243.4 1415.9L1253.6 1415.9L1263.9 1415.9L1274.1 1416.0L1284.4 1416.0L1294.7 1416.0L1304.9 1416.0L1315.2 1416.0L1325.4 1416.0L1335.7 1416.0L1346.0 1416.0L1356.2 1416.0L1366.5 1416.0L1376.7 1416.0L1387.0 1416.0L1397.2 1416.0L1407.5 1416.0L1417.8 1416.0L1428.0 1416.0L1438.3 1416.0L1448.5 1416.0L1458.8 1416.0L1469.0 1416.0L1479.3 1416.0L1489.6 1416.0L1499.8 1416.0L1510.1 1416.0L1520.3 1416.0L1530.6 1416.0L1540.9 1416.0L1551.1 1416.0L1561.4 1416.0L1571.6 1416.0L1581.9 1416.0L1592.1 1416.0L1602.4 1416.0L1612.7 1416.0L1622.9 1416.0L1633.2 1416.0L1643.4 1416.0L1653.7 1416.0L1664.0 1416.0L1674.2 1416.0L1684.5 1416.0L1694.7 1416.0L1705.0 1416.0L1715.2 1416.0L1725.5 1416.0L1735.8 1416.0L1746.0 1416.0L1756.3 1416.0L1766.5 1416.0L1776.8 1416.0L1787.1 1416.0L1797.3 1416.0L1807.6 1416.0L1817.8 1416.0L1823.4 1416.0" stroke="#9e9ac8" stroke-width="7.5"/>
<path d="M189.6 1416.0L199.8 1416.0L210.1 1416.0L220.4 1416.0L230.6 1416.0L240.9 1416.0L251.1 1416.0L261.4 1416.0L271.6 1416.0L281.9 1416.0L292.2 1416.0L302.4 1416.0L312.7 1416.0L322.9 1416.0L333.2 1416.0L343.5 1416.0L353.7 1416.0L364.0 1416.0L374.2 1416.0L384.5 1416.0L394.7 1416.0L405.0 1416.0L415.3 1416.0L425.5 1416.0L435.8 1416.0L446.0 1416.0L456.3 1416.0L466.5 1416.0L476.8 1416.0L487.1 1416.0L497.3 1416.0L507.6 1416.0L517.8 1416.0L528.1 1416.0L538.4 1416.0L548.6 1416.0L558.9 1416.0L569.1 1416.0L579.4 1416.0L589.6 1416.0L599.9 1416.0L610.2 1416.0L620.4 1416.0L630.7 1416.0L640.9 1416.0L651.2 1416.0L661.5 1416.0L671.7 1416.0L682.0 1416.0L692.2 1416.0L702.5 1416.0L712.7 1416.0L723.0 1416.0L733.3 1416.0L743.5 1416.0L753.8 1416.0L764.0 1416.0L774.3 1416.0L784.6 1416.0L794.8 1416.0L805.1 1416.0L815.3 1416.0L825.6 1416.0L835.8 1416.0L846.1 1416.0L856.4 1416.0L866.6 1416.0L876.9 1416.0L887.1 1416.0L897.4 1416.0L907.6 1416.0L917.9 1416.0L928.2 1416.0L938.4 1416.0L948.7 1416.0L958.9 1416.0L969.2 1416.0L979.5 1416.0L989.7 1416.0L1000.0 1416.0L1010.2 1415.9L1020.5 1415.9L1030.7 1415.9L1041.0 1415.8L1051.3 1415.8L1061.5 1415.7L1071.8 1415.6L1082.0 1415.5L1092.3 1415.4L1102.6 1415.2L1112.8 1415.0L1123.1 1414.7L1133.3 1414.3L1143.6 1413.9L1153.8 1413.4L1164.1 1412.8L1174.4 1412.1L1184.6 1411.3L1194.9 1410.3L1205.1 1409.1L1215.4 1407.8L1225.7 1406.3L1235.9 1404.6L1246.2 1402.7L1256.4 1400.6L1266.7 1398.3L1276.9 1395.8L1287.2 1393.1L1297.5 1390.2L1307.7 1387.1L1318.0 1383.9L1328.2 1380.5L1338.5 1377.1L1348.7 1373.7L1359.0 1370.3L1369.3 1366.9L1379.5 1363.7L1389.8 1360.6L1400.0 1357.8L1410.3 1355.2L1420.6 1353.0L1430.8 1351.1L1441.1 1349.7L1451.3 1348.7L1461.6 1348.1L1471.8 1348.0L1482.1 1348.4L1492.4 1349.2L1502.6 1350.5L1512.9 1352.2L1523.1 1354.3L1533.4 1356.8L1543.7 1359.5L1553.9 1362.5L1564.2 1365.7L1574.4 1369.0L1584.7 1372.4L1594.9 1375.8L1605.2 1379.2L1615.5 1382.6L1625.7 1385.9L1636.0 1389.0L1646.2 1392.0L1656.5 1394.8L1666.8 1397.4L1677.0 1399.8L1687.3 1401.9L1697.5 1403.9L1707.8 1405.7L1718.0 1407.3L1728.3 1408.6L1738.6 1409.9L1748.8 1410.9L1759.1 1411.8L1769.3 1412.6L1779.6 1413.2L1789.8 1413.7L1800.1 1414.2L1810.4 1414.6L1820.6 1414.9L1823.4 1414.9" stroke="#9e9ac8" stroke-width="7.5"/>
</g>
<g>
<path d="M189.6 1699.1L199.8 1698.4L210.1 1697.4L220.4 1696.0L230.6 1694.3L240.9 1691.9L249.3 1689.4L256.7 1686.7L263.3 1683.8L269.8 1680.4L275.4 1677.1L281.0 1673.4L286.6 1669.2L292.2 1664.5L298.7 1658.4L305.2 1651.7L312.7 1643.2L321.1 1632.8L331.3 1618.9L341.6 1604.1L351.8 1589.0L362.1 1574.3L370.5 1562.9L377.0 1554.8L381.7 1549.5L386.3 1544.7L390.1 1541.2L393.8 1538.1L397.5 1535.3L400.3 1533.5L403.1 1531.9L405.9 1530.5L408.7 1529.3L411.5 1528.4L414.3 1527.7L417.1 1527.2L419.9 1526.9L422.7 1526.8L425.5 1527.0L428.3 1527.3L431.1 1527.8L434.8 1528.8L438.6 1530.0L442.3 1531.6L447.0 1534.0L452.6 1537.2L460.0 1542.3L470.3 1550.1L480.5 1558.4L490.8 1566.8L501.1 1574.8L511.3 1582.0L520.6 1587.9L529.0 1592.5L538.4 1596.9L548.6 1600.9L558.9 1604.2L569.1 1607.0L579.4 1609.4L589.6 1611.5L599.9 1613.6L610.2 1615.6L620.4 1617.7L630.7 1620.0L640.9 1622.5L651.2 1625.2L661.5 1628.1L671.7 1631.3L682.0 1634.6L692.2 1638.0L702.5 1641.6L712.7 1645.3L723.0 1649.0L733.3 1652.7L743.5 1656.4L753.8 1660.1L764.0 1663.6L774.3 1667.1L784.6 1670.4L794.8 1673.6L805.1 1676.6L815.3 1679.4L825.6 1682.1L835.8 1684.5L846.1 1686.8L856.4 1688.9L866.6 1690.8L876.9 1692.6L887.1 1694.1L897.4 1695.5L907.6 1696.7L917.9 1697.8L928.2 1698.8L938.4 1699.6L948.7 1700.4L958.9 1701.0L969.2 1701.5L979.5 1701.9L989.7 1702.3L1000.0 1702.5L1010.2 1702.7L1020.5 1702.9L1030.7 1703.0L1041.0 1703.0L1051.3 1702.9L1061.5 1702.8L1071.8 1702.6L1082.0 1702.3L1092.3 1702.0L1102.6 1701.6L1112.8 1701.1L1123.1 1700.5L1133.3 1699.8L1143.6 1699.0L1153.8 1698.1L1164.1 1697.1L1174.4 1695.9L1184.6 1694.6L1194.9 1693.1L1205.1 1691.6L1215.4 1689.8L1225.7 1688.0L1235.9 1686.0L1246.2 1683.9L1256.4 1681.6L1266.7 1679.3L1276.9 1676.8L1287.2 1674.3L1297.5 1671.8L1307.7 1669.2L1318.0 1666.7L1328.2 1664.1L1338.5 1661.7L1348.7 1659.3L1359.0 1657.1L1369.3 1655.1L1379.5 1653.2L1389.8 1651.6L1400.0 1650.2L1410.3 1649.1L1420.6 1648.2L1430.8 1647.7L1441.1 1647.5L1451.3 1647.6L1461.6 1647.9L1471.8 1648.6L1482.1 1649.4L1492.4 1650.5L1502.6 1651.9L1512.9 1653.4L1523.1 1655.2L1533.4 1657.1L1543.7 1659.1L1553.9 1661.3L1564.2 1663.5L1574.4 1665.8L1584.7 1668.2L1594.9 1670.6L1605.2 1672.9L1615.5 1675.3L1625.7 1677.6L1636.0 1679.8L1646.2 1682.0L1656.5 1684.0L1666.8 1686.0L1677.0 1687.8L1687.3 1689.6L1697.5 1691.2L1707.8 1692.7L1718.0 1694.1L1728.3 1695.3L1738.6 1696.5L1748.8 1697.5L1759.1 1698.5L1769.3 1699.3L1779.6 1700.0L1789.8 1700.7L1800.1 1701.3L1810.4 1701.8L1820.6 1702.2L1823.4 1702.3" stroke="#e7298a" stroke-width="12.6"/>
<path d="M200.5 1704.5 L1812.5 1704.5" stroke="#f06aa8" stroke-width="7"/>
<path d="M189.6 1704.0L199.8 1703.6L210.1 1703.1L220.4 1702.3L230.6 1701.1L240.9 1699.4L250.2 1697.2L258.6 1694.8L266.0 1692.0L272.6 1689.2L279.1 1685.8L285.6 1682.0L292.2 1677.6L298.7 1672.6L306.1 1666.3L314.5 1658.4L324.8 1647.7L335.1 1636.2L345.3 1624.2L355.6 1612.3L364.9 1602.1L371.4 1595.5L377.0 1590.5L381.7 1586.7L385.4 1584.0L389.1 1581.7L392.9 1579.7L395.7 1578.4L398.5 1577.3L401.3 1576.5L404.1 1575.9L406.9 1575.5L409.7 1575.3L412.5 1575.4L415.3 1575.6L418.1 1576.1L420.9 1576.9L423.7 1577.8L426.4 1579.0L429.2 1580.3L433.0 1582.5L436.7 1584.9L441.4 1588.5L446.0 1592.4L452.6 1598.6L461.9 1608.5L472.1 1620.2L482.4 1632.3L492.7 1644.0L502.9 1655.0L511.3 1663.3L518.8 1669.9L525.3 1675.1L531.8 1679.8L538.4 1683.9L544.9 1687.5L551.4 1690.6L558.9 1693.6L567.3 1696.3L576.6 1698.7L586.8 1700.6L597.1 1701.9L607.4 1702.8L617.6 1703.5L627.9 1703.9L638.1 1704.1L648.4 1704.3L658.7 1704.4L668.9 1704.4L679.2 1704.5L689.4 1704.5L699.7 1704.5L709.9 1704.5L720.2 1704.5L730.5 1704.5L740.7 1704.5L751.0 1704.5L761.2 1704.5L771.5 1704.5L781.8 1704.5L792.0 1704.5L802.3 1704.5L812.5 1704.5L822.8 1704.5L833.0 1704.5L843.3 1704.5L853.6 1704.5L863.8 1704.5L874.1 1704.5L884.3 1704.5L894.6 1704.5L904.9 1704.5L915.1 1704.5L925.4 1704.5L935.6 1704.5L945.9 1704.5L956.1 1704.5L966.4 1704.5L976.7 1704.5L986.9 1704.5L997.2 1704.5L1007.4 1704.5L1017.7 1704.5L1027.9 1704.5L1038.2 1704.5L1048.5 1704.5L1058.7 1704.5L1069.0 1704.5L1079.2 1704.5L1089.5 1704.5L1099.8 1704.5L1110.0 1704.5L1120.3 1704.5L1130.5 1704.5L1140.8 1704.5L1151.0 1704.5L1161.3 1704.5L1171.6 1704.5L1181.8 1704.5L1192.1 1704.5L1202.3 1704.5L1212.6 1704.5L1222.9 1704.5L1233.1 1704.5L1243.4 1704.5L1253.6 1704.5L1263.9 1704.5L1274.1 1704.5L1284.4 1704.5L1294.7 1704.5L1304.9 1704.5L1315.2 1704.5L1325.4 1704.5L1335.7 1704.5L1346.0 1704.5L1356.2 1704.5L1366.5 1704.5L1376.7 1704.5L1387.0 1704.5L1397.2 1704.5L1407.5 1704.5L1417.8 1704.5L1428.0 1704.5L1438.3 1704.5L1448.5 1704.5L1458.8 1704.5L1469.0 1704.5L1479.3 1704.5L1489.6 1704.5L1499.8 1704.5L1510.1 1704.5L1520.3 1704.5L1530.6 1704.5L1540.9 1704.5L1551.1 1704.5L1561.4 1704.5L1571.6 1704.5L1581.9 1704.5L1592.1 1704.5L1602.4 1704.5L1612.7 1704.5L1622.9 1704.5L1633.2 1704.5L1643.4 1704.5L1653.7 1704.5L1664.0 1704.5L1674.2 1704.5L1684.5 1704.5L1694.7 1704.5L1705.0 1704.5L1715.2 1704.5L1725.5 1704.5L1735.8 1704.5L1746.0 1704.5L1756.3 1704.5L1766.5 1704.5L1776.8 1704.5L1787.1 1704.5L1797.3 1704.5L1807.6 1704.5L1817.8 1704.5L1823.4 1704.5" stroke="#f06aa8" stroke-width="7.5"/>
<path d="M189.6 1702.8L199.8 1702.4L210.1 1701.9L220.4 1701.4L230.6 1700.7L240.9 1699.9L251.1 1699.0L261.4 1698.0L271.6 1696.8L281.9 1695.5L292.2 1694.0L302.4 1692.3L312.7 1690.3L322.9 1688.2L333.2 1685.9L343.5 1683.3L353.7 1680.5L364.0 1677.5L374.2 1674.3L384.5 1670.9L394.7 1667.3L405.0 1663.6L415.3 1659.8L425.5 1655.8L435.8 1651.8L446.0 1647.8L456.3 1643.8L466.5 1639.9L476.8 1636.1L487.1 1632.5L497.3 1629.1L507.6 1626.0L517.8 1623.2L528.1 1620.7L538.4 1618.7L548.6 1617.1L558.9 1616.0L569.1 1615.4L579.4 1615.2L589.6 1615.5L599.9 1616.2L610.2 1617.3L620.4 1618.8L630.7 1620.7L640.9 1622.9L651.2 1625.4L661.5 1628.3L671.7 1631.3L682.0 1634.6L692.2 1638.0L702.5 1641.6L712.7 1645.3L723.0 1649.0L733.3 1652.7L743.5 1656.4L753.8 1660.1L764.0 1663.6L774.3 1667.1L784.6 1670.4L794.8 1673.6L805.1 1676.6L815.3 1679.4L825.6 1682.1L835.8 1684.5L846.1 1686.8L856.4 1688.9L866.6 1690.8L876.9 1692.6L887.1 1694.1L897.4 1695.5L907.6 1696.8L917.9 1697.9L928.2 1698.9L938.4 1699.7L948.7 1700.5L958.9 1701.1L969.2 1701.7L979.5 1702.1L989.7 1702.5L1000.0 1702.9L1010.2 1703.2L1020.5 1703.4L1030.7 1703.6L1041.0 1703.8L1051.3 1703.9L1061.5 1704.0L1071.8 1704.1L1082.0 1704.2L1092.3 1704.3L1102.6 1704.3L1112.8 1704.4L1123.1 1704.4L1133.3 1704.4L1143.6 1704.4L1153.8 1704.4L1164.1 1704.5L1174.4 1704.5L1184.6 1704.5L1194.9 1704.5L1205.1 1704.5L1215.4 1704.5L1225.7 1704.5L1235.9 1704.5L1246.2 1704.5L1256.4 1704.5L1266.7 1704.5L1276.9 1704.5L1287.2 1704.5L1297.5 1704.5L1307.7 1704.5L1318.0 1704.5L1328.2 1704.5L1338.5 1704.5L1348.7 1704.5L1359.0 1704.5L1369.3 1704.5L1379.5 1704.5L1389.8 1704.5L1400.0 1704.5L1410.3 1704.5L1420.6 1704.5L1430.8 1704.5L1441.1 1704.5L1451.3 1704.5L1461.6 1704.5L1471.8 1704.5L1482.1 1704.5L1492.4 1704.5L1502.6 1704.5L1512.9 1704.5L1523.1 1704.5L1533.4 1704.5L1543.7 1704.5L1553.9 1704.5L1564.2 1704.5L1574.4 1704.5L1584.7 1704.5L1594.9 1704.5L1605.2 1704.5L1615.5 1704.5L1625.7 1704.5L1636.0 1704.5L1646.2 1704.5L1656.5 1704.5L1666.8 1704.5L1677.0 1704.5L1687.3 1704.5L1697.5 1704.5L1707.8 1704.5L1718.0 1704.5L1728.3 1704.5L1738.6 1704.5L1748.8 1704.5L1759.1 1704.5L1769.3 1704.5L1779.6 1704.5L1789.8 1704.5L1800.1 1704.5L1810.4 1704.5L1820.6 1704.5L1823.4 1704.5" stroke="#f06aa8" stroke-width="7.5"/>
<path d="M189.6 1704.5L199.8 1704.5L210.1 1704.5L220.4 1704.5L230.6 1704.5L240.9 1704.5L251.1 1704.5L261.4 1704.5L271.6 1704.5L281.9 1704.5L292.2 1704.5L302.4 1704.5L312.7 1704.5L322.9 1704.5L333.2 1704.5L343.5 1704.5L353.7 1704.5L364.0 1704.5L374.2 1704.5L384.5 1704.5L394.7 1704.5L405.0 1704.5L415.3 1704.5L425.5 1704.5L435.8 1704.5L446.0 1704.5L456.3 1704.5L466.5 1704.5L476.8 1704.5L487.1 1704.5L497.3 1704.5L507.6 1704.5L517.8 1704.5L528.1 1704.5L538.4 1704.5L548.6 1704.5L558.9 1704.5L569.1 1704.5L579.4 1704.5L589.6 1704.5L599.9 1704.5L610.2 1704.5L620.4 1704.5L630.7 1704.5L640.9 1704.5L651.2 1704.5L661.5 1704.5L671.7 1704.5L682.0 1704.5L692.2 1704.5L702.5 1704.5L712.7 1704.5L723.0 1704.5L733.3 1704.5L743.5 1704.5L753.8 1704.5L764.0 1704.5L774.3 1704.5L784.6 1704.5L794.8 1704.5L805.1 1704.5L815.3 1704.5L825.6 1704.5L835.8 1704.5L846.1 1704.5L856.4 1704.5L866.6 1704.5L876.9 1704.5L887.1 1704.5L897.4 1704.5L907.6 1704.5L917.9 1704.5L928.2 1704.4L938.4 1704.4L948.7 1704.4L958.9 1704.4L969.2 1704.3L979.5 1704.3L989.7 1704.2L1000.0 1704.2L1010.2 1704.1L1020.5 1704.0L1030.7 1703.8L1041.0 1703.7L1051.3 1703.5L1061.5 1703.2L1071.8 1703.0L1082.0 1702.6L1092.3 1702.2L1102.6 1701.8L1112.8 1701.2L1123.1 1700.6L1133.3 1699.9L1143.6 1699.1L1153.8 1698.1L1164.1 1697.1L1174.4 1695.9L1184.6 1694.6L1194.9 1693.2L1205.1 1691.6L1215.4 1689.9L1225.7 1688.0L1235.9 1686.0L1246.2 1683.9L1256.4 1681.6L1266.7 1679.3L1276.9 1676.8L1287.2 1674.3L1297.5 1671.8L1307.7 1669.2L1318.0 1666.7L1328.2 1664.1L1338.5 1661.7L1348.7 1659.3L1359.0 1657.1L1369.3 1655.1L1379.5 1653.2L1389.8 1651.6L1400.0 1650.2L1410.3 1649.1L1420.6 1648.2L1430.8 1647.7L1441.1 1647.5L1451.3 1647.6L1461.6 1647.9L1471.8 1648.6L1482.1 1649.4L1492.4 1650.5L1502.6 1651.9L1512.9 1653.4L1523.1 1655.2L1533.4 1657.1L1543.7 1659.1L1553.9 1661.3L1564.2 1663.5L1574.4 1665.8L1584.7 1668.2L1594.9 1670.6L1605.2 1672.9L1615.5 1675.3L1625.7 1677.6L1636.0 1679.8L1646.2 1682.0L1656.5 1684.0L1666.8 1686.0L1677.0 1687.8L1687.3 1689.6L1697.5 1691.2L1707.8 1692.7L1718.0 1694.1L1728.3 1695.3L1738.6 1696.5L1748.8 1697.5L1759.1 1698.5L1769.3 1699.3L1779.6 1700.0L1789.8 1700.7L1800.1 1701.3L1810.4 1701.8L1820.6 1702.2L1823.4 1702.3" stroke="#f06aa8" stroke-width="7.5"/>
</g>
</g>
<g font-size="78" text-anchor="middle" fill="#000">
<text transform="translate(204.50 1884.50) scale(0.971 1.023)">50</text>
<text transform="translate(391.01 1884.50) scale(0.971 1.023)">100</text>
<text transform="translate(577.52 1884.50) scale(0.971 1.023)">150</text>
<text transform="translate(764.03 1884.50) scale(0.971 1.023)">200</text>
<text transform="translate(950.55 1884.50) scale(0.971 1.023)">250</text>
<text transform="translate(1137.06 1884.50) scale(0.971 1.023)">300</text>
<text transform="translate(1323.57 1884.50) scale(0.971 1.023)">350</text>
<text transform="translate(1510.08 1884.50) scale(0.971 1.023)">400</text>
<text transform="translate(1696.59 1884.50) scale(0.971 1.023)">450</text>
</g>
<text transform="translate(1005.6 2024.8) scale(0.984 1.0)" font-size="78" text-anchor="middle">Temperature (<tspan font-size="51" dy="-34">o</tspan><tspan dy="34">C)</tspan></text>
<text transform="translate(131.2 938.1) rotate(-90) scale(1.0 1.0)" font-size="78" text-anchor="middle">CO<tspan font-size="50" dy="21.5">2</tspan><tspan dy="-21.5"> desorption (a.u.)</tspan></text>
<text transform="translate(1515.03 410.40) scale(0.7512 0.7893)" font-size="100" fill="#1b9e77">CZZ-12</text>
<text transform="translate(1532.31 757.10) scale(0.7556 0.7802)" font-size="100" fill="#d95f02">CZZ-6</text>
<text transform="translate(1526.14 1327.80) scale(0.7501 0.7756)" font-size="100" fill="#7570b3">CZZ-3</text>
<text transform="translate(1537.36 1638.90) scale(0.7455 0.7802)" font-size="100" fill="#e7298a">CZZ-1</text>
<g>
<line x1="442.1" y1="381.3" x2="374.6" y2="312.9" stroke="#000" stroke-width="2.3"/><polygon points="344.1,281.9 381.6,304.6 366.3,319.7" fill="#000"/>
<line x1="658.0" y1="430.8" x2="656.4" y2="393.4" stroke="#000" stroke-width="2.3"/><polygon points="654.5,349.9 667.1,391.9 645.6,392.8" fill="#000"/>
<line x1="1475.8" y1="440.7" x2="1475.1" y2="385.3" stroke="#000" stroke-width="2.3"/><polygon points="1474.5,341.8 1485.8,384.2 1464.3,384.4" fill="#000"/>
<line x1="424.2" y1="714.9" x2="355.6" y2="666.9" stroke="#000" stroke-width="2.3"/><polygon points="320.0,641.9 361.0,657.5 348.6,675.1" fill="#000"/>
<line x1="615.9" y1="717.6" x2="614.8" y2="690.3" stroke="#000" stroke-width="2.3"/><polygon points="613.0,646.8 625.5,688.8 604.0,689.7" fill="#000"/>
<line x1="1432.8" y1="714.7" x2="1432.8" y2="666.4" stroke="#000" stroke-width="2.3"/><polygon points="1432.8,622.9 1443.5,665.4 1422.0,665.4" fill="#000"/>
<line x1="444.7" y1="1097.1" x2="381.1" y2="1047.0" stroke="#000" stroke-width="2.3"/><polygon points="346.9,1020.1 386.9,1037.9 373.6,1054.8" fill="#000"/>
<line x1="649.1" y1="1183.8" x2="649.1" y2="1132.3" stroke="#000" stroke-width="2.3"/><polygon points="649.1,1088.8 659.9,1131.3 638.4,1131.3" fill="#000"/>
<line x1="1469.1" y1="1352.8" x2="1469.1" y2="1297.4" stroke="#000" stroke-width="2.3"/><polygon points="1469.1,1253.9 1479.8,1296.4 1458.3,1296.4" fill="#000"/>
<line x1="415.4" y1="1582.5" x2="349.6" y2="1533.0" stroke="#000" stroke-width="2.3"/><polygon points="314.8,1506.8 355.2,1523.8 342.3,1540.9" fill="#000"/>
<line x1="621.0" y1="1618.8" x2="628.2" y2="1569.8" stroke="#000" stroke-width="2.3"/><polygon points="634.5,1526.8 639.0,1570.4 617.7,1567.3" fill="#000"/>
<line x1="1459.1" y1="1644.6" x2="1458.9" y2="1607.4" stroke="#000" stroke-width="2.3"/><polygon points="1458.6,1563.9 1469.6,1606.3 1448.1,1606.5" fill="#000"/>
</g>
<g>
<text transform="translate(309.42 265.51) scale(0.8633 0.7938)" font-size="100" fill="#000" font-style="italic">α</text>
<text transform="translate(640.86 327.38) scale(0.9544 0.7728)" font-size="100" fill="#000" font-style="italic">β</text>
<text transform="translate(1455.52 313.47) scale(0.9503 0.7733)" font-size="100" fill="#000" font-style="italic">γ</text>
<text transform="translate(269.63 660.11) scale(0.8579 0.7855)" font-size="100" fill="#000" font-style="italic">α</text>
<text transform="translate(587.86 620.31) scale(0.9526 0.7717)" font-size="100" fill="#000" font-style="italic">β</text>
<text transform="translate(1426.42 596.41) scale(0.9503 0.7719)" font-size="100" fill="#000" font-style="italic">γ</text>
<text transform="translate(290.52 1035.21) scale(0.8615 0.7896)" font-size="100" fill="#000" font-style="italic">α</text>
<text transform="translate(624.82 1065.26) scale(0.9730 0.7739)" font-size="100" fill="#000" font-style="italic">β</text>
<text transform="translate(1460.23 1227.27) scale(0.9333 0.7689)" font-size="100" fill="#000" font-style="italic">γ</text>
<text transform="translate(268.73 1516.11) scale(0.8597 0.7896)" font-size="100" fill="#000" font-style="italic">α</text>
<text transform="translate(614.90 1513.36) scale(0.9656 0.7739)" font-size="100" fill="#000" font-style="italic">β</text>
<text transform="translate(1442.32 1540.44) scale(0.9527 0.7704)" font-size="100" fill="#000" font-style="italic">γ</text>
</g>
</svg></body></html>
